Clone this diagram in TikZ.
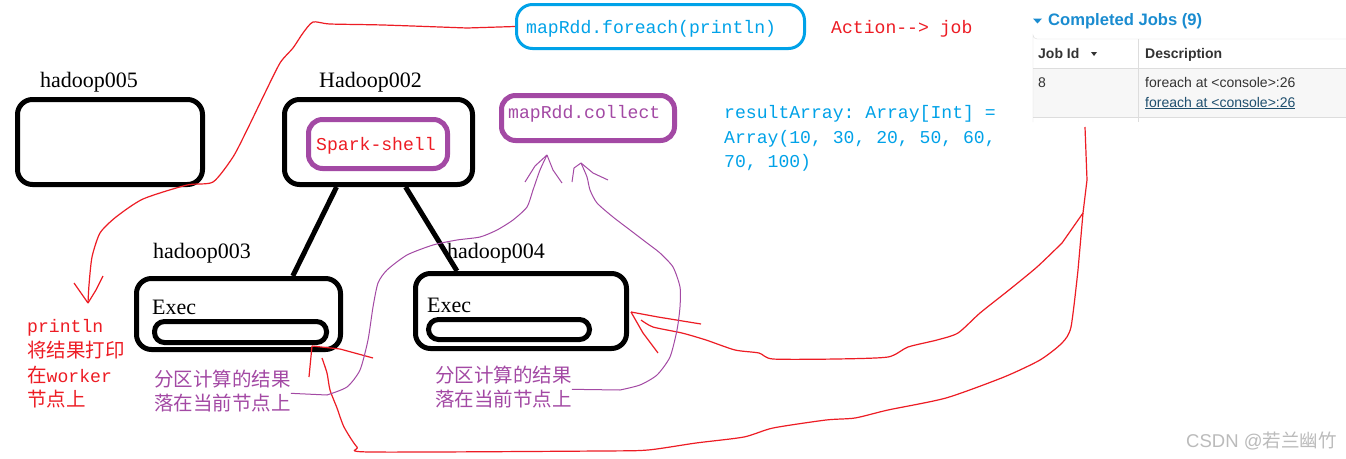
\documentclass[tikz,border=0pt]{standalone}
\usepackage{fontspec}
\setmainfont{Liberation Serif}
\setsansfont{Liberation Sans}
\setmonofont{Liberation Mono}
\newfontfamily\cjk{Noto Sans CJK SC}
\usetikzlibrary{calc}

\definecolor{penred}{HTML}{ED1C24}
\definecolor{rddpurple}{HTML}{A349A4}
\definecolor{actblue}{HTML}{00A2E8}
\definecolor{uiblue}{HTML}{1A8CD0}
\definecolor{uitext}{HTML}{333333}
\definecolor{uiline}{HTML}{DDDDDD}
\definecolor{uilink}{HTML}{1F4F6E}
\definecolor{markgray}{HTML}{BBBBBB}

\tikzset{
  hostbox/.style={draw, line width=5pt, rounded corners=15pt, inner sep=0pt},
  execbox/.style={draw, line width=5pt, rounded corners=10pt, inner sep=0pt},
  rddbox/.style={draw=rddpurple, line width=5pt, rounded corners=14pt, inner sep=0pt},
  actbox/.style={draw=actblue, line width=3pt, rounded corners=16pt, inner sep=0pt},
  hostlabel/.style={anchor=base west, inner sep=0pt, font=\fontsize{22}{26}\selectfont},
  codetext/.style={anchor=base west, inner sep=0pt, font=\fontsize{18.1}{25}\selectfont\ttfamily},
  cjktext/.style={anchor=base west, inner sep=0pt, font=\fontsize{19.5}{25}\selectfont\cjk},
  uitxt/.style={anchor=base west, inner sep=0pt, text=uitext, font=\fontsize{14}{17}\selectfont\sffamily},
  hostlink/.style={line width=5pt},
  redpen/.style={draw=penred, line width=1.2pt},
  purplepen/.style={draw=rddpurple, line width=1pt},
}

\begin{document}
\begin{tikzpicture}[x=1pt,y=-1pt]
			%%%%% START %%%%%
			\useasboundingbox[fill=white] (0,0) rectangle (1346,458);
			
			% hosts
			\node[hostbox, minimum width=185, minimum height=85] (h005) at (110,142) {};
			\node[hostlabel] (h005l) at (40,87) {hadoop005};
			
			\node[hostbox, minimum width=188, minimum height=85] (h002) at (378.5,142) {};
			\node[hostlabel] (h002l) at (319,87) {Hadoop002};
			\node[rddbox, minimum width=139, minimum height=49] (spark) at (378,144) {};
			\node[codetext, text=penred] (sparkl) at (316,150) {Spark-shell};
			
			\node[hostbox, minimum width=204, minimum height=71] (h003) at (238.5,314) {};
			\node[hostlabel] (h003l) at (153,258) {hadoop003};
			\node[hostlabel] (exec3) at (152,314) {Exec};
			\node[execbox, minimum width=172, minimum height=21] (in003) at (240.5,332) {};
			
			\node[hostbox, minimum width=211, minimum height=75] (h004) at (521,311) {};
			\node[hostlabel] (h004l) at (447,258) {hadoop004};
			\node[hostlabel] (exec4) at (427,312) {Exec};
			\node[execbox, minimum width=161, minimum height=20] (in004) at (509,329.5) {};
			
			\draw[hostlink] (h002.-133) -- (h003.35);
			\draw[hostlink] (h002.-59) -- (h004.148);
			
			% actions
			\node[actbox, minimum width=288, minimum height=44] (foreach) at (660.5,26.5) {};
			\node[codetext, text=actblue] (foreachl) at (526,33) {mapRdd.foreach(println)};
			\node[codetext, text=penred] (job) at (831,33) {Action-{}-> job};
			
			\node[rddbox, minimum width=173, minimum height=45] (collect) at (588,118) {};
			\node[codetext, text=rddpurple] (collectl) at (508,118) {mapRdd.collect};
			
			\node[codetext, text=actblue] (res1) at (724,118) {resultArray: Array[Int] =};
			\node[codetext, text=actblue] (res2) at (724,143) {Array(10, 30, 20, 50, 60,};
			\node[codetext, text=actblue] (res3) at (724,167) {70, 100)};
			
			% notes
			\node[codetext, text=penred] (pr1) at (27,332) {println};
			\node[cjktext, text=penred] (pr2) at (27,357) {将结果打印};
			\node[cjktext, text=penred] (pr3) at (27,382) {在{\fontsize{18.1}{25}\selectfont\ttfamily worker}};
			\node[cjktext, text=penred] (pr4) at (27,406) {节点上};
			
			\node[cjktext, text=rddpurple] (part3a) at (154,386) {分区计算的结果};
			\node[cjktext, text=rddpurple] (part3b) at (154,410) {落在当前节点上};
			\node[cjktext, text=rddpurple] (part4a) at (435,382) {分区计算的结果};
			\node[cjktext, text=rddpurple] (part4b) at (435,406) {落在当前节点上};
			
			% spark ui
			\fill[uiblue] (1033,18.5) -- (1042,18.5) -- (1037.5,23.5) -- cycle;
			\node[uitxt, text=uiblue, font=\fontsize{16.6}{20}\selectfont\sffamily\bfseries] (jobs) at (1048,25) {Completed Jobs (9)};
			\fill[black!3] (1033,68) rectangle (1346,117);
			\draw[uiline] (1346,39) -- (1037,39) arc (90:180:4) -- (1033,122);
			\draw[uiline] (1033,68) -- (1346,68);
			\draw[uiline] (1033,117) -- (1346,117);
			\draw[uiline] (1138,39) -- (1138,122);
			\node[uitxt, font=\fontsize{14}{17}\selectfont\sffamily\bfseries] (jobid) at (1038,58) {Job Id};
			\fill[uitext] (1091,52) -- (1097,52) -- (1094,56) -- cycle;
			\node[uitxt, font=\fontsize{14}{17}\selectfont\sffamily\bfseries] (desc) at (1145,58) {Description};
			\node[uitxt] (id8) at (1038,87) {8};
			\node[uitxt] (desc1) at (1145,87) {foreach at <console>:26};
			\node[uitxt, text=uilink] (desc2) at (1145,107) {\underline{foreach at <console>:26}};
			
			% red pen: foreach runs println on the workers
			\coordinate (prtip) at (88,303);
			\draw[redpen] (foreach.west) -- plot[smooth, tension=.4] coordinates {(467,28) (383,25) (330,24) (313,22) (303,33) (293,48) (280,63) (263,97) (247,130) (233,157) (213,182) (187,185) (143,199) (116,217) (100,233) (92,257) (89,285) (prtip)};
			\draw[redpen] (prtip) -- (74,283);
			\draw[redpen] (prtip) -- (96,290) -- (103,276);
			
			% red pen: job back to the executors
			\coordinate (jobfork) at (1083,213);
			\coordinate (tip3) at (312,346);
			\coordinate (tip4) at ($(h004.east)+(2,1)$);
			\draw[redpen] (1085,127) -- (1087,180) -- (jobfork);
			\draw[redpen] (jobfork) -- plot[smooth, tension=.4] coordinates {(1078,270) (1071,327) (1062,343) (1040,360) (1004,377) (946,398) (888,410) (855,418) (826,420) (773,428) (744,437) (696,443) (648,450) (600,451) (370,452) (357,447) (344,427) (337,408) (330,390) (327,373) (322,358)};
			\draw[redpen] (tip3) -- (309,377);
			\draw[redpen] (tip3) -- (340,349) -- (373,358);
			\draw[redpen] (jobfork) -- plot[smooth, tension=.4] coordinates {(1062,243) (1037,267) (1009,290) (980,313) (958,333) (937,340) (908,347) (888,357) (836,359) (773,359) (759,353) (735,350) (706,340) (682,333) (653,327) (641,320)};
			\draw[redpen] (tip4) -- (658,317) -- (701,324);
			\draw[redpen] (tip4) -- (643,333) -- (658,353);
			
			% purple pen: partitions collected to the driver
			\coordinate (ctip3) at (547,155);
			\coordinate (ctip4) at (581,163);
			\draw[purplepen] (part3b.north east) -- plot[smooth, tension=.4] coordinates {(327,395) (347,387) (360,370) (368,340) (373,307) (378,283) (387,270) (407,255) (433,245) (457,240) (480,237) (497,230) (513,220) (527,207) (533,190) (540,170) (ctip3)};
			\draw[purplepen] (ctip3) -- (535,166) -- (525,182);
			\draw[purplepen] (ctip3) -- (553,170) -- (562,183);
			\draw[purplepen] (part4b.north east) -- plot[smooth, tension=.4] coordinates {(620,390) (640,385) (657,375) (670,357) (677,330) (680,307) (680,287) (673,267) (660,253) (647,243) (630,230) (613,217) (597,203) (590,190) (587,177) (ctip4)};
			\draw[purplepen] (ctip4) -- (574,168) -- (572,182);
			\draw[purplepen] (ctip4) -- (593,173) -- (608,180);
			
			\node[anchor=base west, inner sep=0pt, text=markgray, font=\fontsize{18.5}{22}\selectfont\sffamily] (mark) at (1186,447) {CSDN @{\cjk 若兰幽竹}};
			%%%%% END %%%%%
\end{tikzpicture}
\end{document}
